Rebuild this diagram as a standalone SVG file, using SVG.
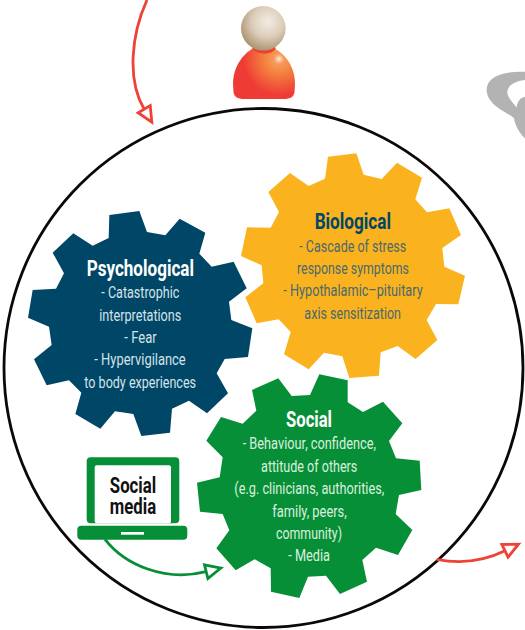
<svg xmlns="http://www.w3.org/2000/svg" width="525" height="630" viewBox="0 0 525 630">
<style>
text{font-family:Roboto,"Liberation Sans",sans-serif;text-anchor:middle}
.t{font-size:22px;font-weight:700}
.b{font-size:17px;font-weight:400}
.ln{font-size:17px;font-weight:400}
.w{fill:#fff}
.pb{fill:#d5e2e8}
.yt{fill:#004767}
.yb{fill:#496a6c}
.gb{fill:#dcefdf}
.k{fill:#111}
.conn{fill:none;stroke-width:2.8}
</style>
<defs>
<radialGradient id="head" cx="0.6" cy="0.35" r="0.7"><stop offset="0" stop-color="#f3ece2"/><stop offset="0.5" stop-color="#dccdb9"/><stop offset="1" stop-color="#a88c6b"/></radialGradient>
<radialGradient id="bodyG" gradientUnits="userSpaceOnUse" cx="279" cy="59" r="36"><stop offset="0" stop-color="#fde9d8"/><stop offset="0.14" stop-color="#f79a58"/><stop offset="0.42" stop-color="#f3813f"/><stop offset="1" stop-color="#ee3b35"/></radialGradient>
<marker id="arR" markerUnits="userSpaceOnUse" markerWidth="26" markerHeight="22" refX="1" refY="11" orient="auto" overflow="visible"><path d="M1,4L16,11L1,18Z" fill="#fff" stroke="#ef4136" stroke-width="2.800"/></marker>
<marker id="arG" markerUnits="userSpaceOnUse" markerWidth="26" markerHeight="22" refX="1" refY="11" orient="auto" overflow="visible"><path d="M1,4L16,11L1,18Z" fill="#fff" stroke="#068f37" stroke-width="2.800"/></marker>
</defs>

<g id="gray-shape"><path d="M525,71.700C508,71.500 495,74 489,82C484,90 487,99 497,107C505,113 511,115 514,118.300C515,125 519,133 525,138.300L525,96.700C520,97.500 517,102 516.700,107.500C512,102 507.500,97 507.300,92C508,85 515,81 525,80Z" fill="#b3b3b3"/></g>

<g id="person">
<path d="M233,84C233,66 244,52 256,47L270,47C284,51 295,66 295,84L294.500,92C294,97 290,99 284,99L244,99C238,99 234,97 233.500,92Z" fill="url(#bodyG)"/>
<path d="M252,48C256,55 272,56 276,48L270,44L258,44Z" fill="#e8432f"/>
<circle cx="263.300" cy="28.300" r="22.300" fill="url(#head)"/>
</g>

<g id="boundary"><circle cx="263.500" cy="368" r="259.500" fill="none" stroke="#0c0808" stroke-width="2.800"/></g>

<g id="connectors">
<path class="conn" stroke="#ef4136" marker-end="url(#arR)" d="M147,0C131,35 127,80 144.200,109.200"/>
<path class="conn" stroke="#ef4136" marker-end="url(#arR)" d="M436.700,559.300C455,563 480,563 505,550.800"/>
<path class="conn" stroke="#068f37" marker-end="url(#arG)" d="M105,539.300C125,565 165,582 206.200,571.700"/>
</g>

<g id="psychological">
<polygon transform="translate(20 210) scale(.33333)" fill="#004767" points="268,15 358,3 381,66 436,76 479,26 556,68 538,131 575,170 641,155 680,235 627,275 634,330 697,355 684,441 614,447 590,490 624,550 561,610 507,572 456,596 450,668 364,678 340,612 285,604 241,656 166,612 184,548 147,511 80,526 42,448 95,405 87,350 24,323 38,240 108,236 132,190 98,128 160,70 218,107 266,84"/>
<text class="t w" x="140.300" y="275.700" textLength="107.300" lengthAdjust="spacingAndGlyphs">Psychological</text>
<text class="b pb" x="140.300" y="298.300" textLength="78" lengthAdjust="spacingAndGlyphs">- Catastrophic</text>
<text class="b pb" x="140.300" y="320.700" textLength="82" lengthAdjust="spacingAndGlyphs">interpretations</text>
<text class="b pb" x="140.500" y="342.700" textLength="32.400" lengthAdjust="spacingAndGlyphs">- Fear</text>
<text class="b pb" x="140" y="365" textLength="91.400" lengthAdjust="spacingAndGlyphs">- Hypervigilance</text>
<text class="b pb" x="140.200" y="387.700" textLength="111.700" lengthAdjust="spacingAndGlyphs">to body experiences</text>
</g>

<g id="biological">
<polygon transform="translate(235 150) scale(.33333)" fill="#fbb21f" points="279,20 364,10 386,74 440,87 486,38 561,83 541,148 576,187 643,175 678,255 622,294 628,350 690,377 670,463 603,462 575,510 607,570 542,627 488,588 437,607 432,677 343,684 322,619 267,608 221,658 147,613 167,546 131,508 65,520 31,442 85,400 80,346 18,318 36,232 107,233 132,186 100,126 165,69 221,108 270,86"/>
<text class="t yt" x="352.800" y="228.700" textLength="76.300" lengthAdjust="spacingAndGlyphs">Biological</text>
<text class="ln yb" x="352.800" y="251.700" textLength="107" lengthAdjust="spacingAndGlyphs">- Cascade of stress</text>
<text class="ln yb" x="353" y="274" textLength="112" lengthAdjust="spacingAndGlyphs">response symptoms</text>
<text class="ln yb" x="353" y="296" textLength="139.400" lengthAdjust="spacingAndGlyphs">- Hypothalamic–pituitary</text>
<text class="ln yb" x="352.700" y="319" textLength="96.700" lengthAdjust="spacingAndGlyphs">axis sensitization</text>
</g>

<g id="social">
<polygon transform="translate(190 370) scale(.33333)" fill="#068f37" points="388,13 473,31 473,97 519,126 579,95 637,160 597,213 618,265 689,272 694,360 627,375 617,432 667,480 624,555 558,533 517,570 531,635 450,672 408,617 354,620 328,684 243,665 242,595 194,568 137,601 79,535 118,481 98,432 30,425 21,338 89,322 98,262 49,212 93,141 158,161 199,122 186,60 265,25 305,78 360,75"/>
<text class="t w" x="309" y="426.700" textLength="46" lengthAdjust="spacingAndGlyphs">Social</text>
<text class="b gb" x="309.300" y="449" textLength="133.300" lengthAdjust="spacingAndGlyphs">- Behaviour, confidence,</text>
<text class="b gb" x="309.200" y="471.700" textLength="96.300" lengthAdjust="spacingAndGlyphs">attitude of others</text>
<text class="b gb" x="309.300" y="494" textLength="150" lengthAdjust="spacingAndGlyphs">(e.g. clinicians, authorities,</text>
<text class="b gb" x="309.500" y="516.700" textLength="74.400" lengthAdjust="spacingAndGlyphs">family, peers,</text>
<text class="b gb" x="309" y="539" textLength="66" lengthAdjust="spacingAndGlyphs">community)</text>
<text class="b gb" x="309.200" y="561" textLength="41.700" lengthAdjust="spacingAndGlyphs">- Media</text>
</g>

<g id="social-media">
<rect x="86.700" y="457.300" width="92.600" height="66" rx="4" fill="#068f37"/>
<rect x="94.700" y="465.300" width="76.300" height="58" rx="2" fill="#fff"/>
<rect x="77.300" y="525.700" width="110" height="14" rx="4" fill="#068f37"/>
<rect x="121" y="532" width="23" height="2.700" fill="#fff"/>
<text class="t k" x="133" y="492.700" textLength="46.300" lengthAdjust="spacingAndGlyphs">Social</text>
<text class="t k" x="133" y="514.300" textLength="46.300" lengthAdjust="spacingAndGlyphs">media</text>
</g>
</svg>
